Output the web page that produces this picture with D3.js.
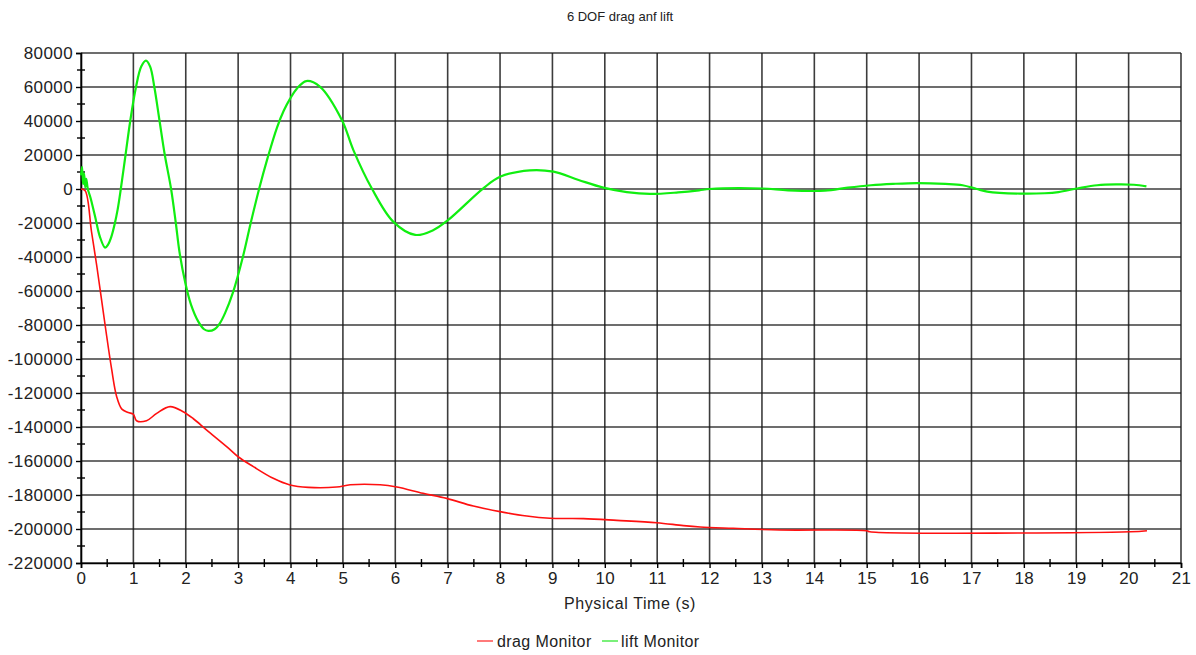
<!DOCTYPE html>
<html>
<head>
<meta charset="utf-8">
<script src="https://cdn.jsdelivr.net/npm/d3@7/dist/d3.min.js"></script>
<style>
  html, body { margin: 0; padding: 0; background: #fff; }
  svg { display: block; font-family: "Liberation Sans", Arial, sans-serif; }
</style>
</head>
<body>
<svg id="chart" width="1196" height="655"></svg>
<script>
const titleText = "6 DOF drag anf lift";
const xLabel = "Physical Time (s)";
const seriesNames = ["drag Monitor", "lift Monitor"];

const xTicks = d3.range(0, 22, 1);
const yTicks = d3.range(-220000, 80001, 20000);

const dragTime = [0, 0.08, 0.2, 0.3, 0.46, 0.585, 0.68, 0.78, 0.9, 1.0, 1.06, 1.25, 1.445, 1.7, 1.95, 2.14, 2.4, 2.78, 3.0, 3.29, 3.67, 3.99, 4.34, 4.88, 5.14, 5.71, 6.03, 6.53, 6.98, 7.49, 8.0, 8.51, 8.95, 9.59, 10.23, 10.99, 11.5, 11.82, 12.45, 13.34, 15.0, 15.06, 20.03, 20.35];
const dragValue = [0, -1000, -25000, -45000, -80000, -106000, -122000, -129500, -131500, -132500, -136300, -136300, -132000, -128000, -131000, -135000, -141800, -151500, -157500, -163300, -170200, -174100, -175500, -175300, -174000, -174000, -175300, -179000, -182000, -186500, -189800, -192400, -193700, -193900, -194900, -196300, -198000, -198800, -199600, -200600, -201000, -201600, -201600, -201000];

const liftTime = [0.0, 0.02, 0.04, 0.06, 0.08, 0.1, 0.13, 0.18, 0.27, 0.36, 0.46, 0.52, 0.58, 0.64, 0.7, 0.76, 0.85, 0.94, 1.05, 1.15, 1.24, 1.32, 1.4, 1.5, 1.6, 1.72, 1.81, 1.88, 1.99, 2.1, 2.24, 2.35, 2.43, 2.55, 2.65, 2.75, 2.9, 3.09, 3.24, 3.4, 3.56, 3.74, 3.87, 3.99, 4.12, 4.3, 4.56, 4.98, 5.2, 5.55, 5.96, 6.38, 6.73, 7.01, 7.68, 8.0, 8.57, 9.02, 9.5, 9.97, 10.42, 10.86, 11.4, 11.8, 12.0, 13.0, 13.5, 14.2, 14.64, 15.08, 15.5, 15.96, 16.5, 16.83, 17.1, 17.3, 17.93, 18.4, 18.66, 19.02, 19.4, 19.76, 20.1, 20.34];
const liftValue = [8000, 13000, 3000, 9000, 1000, 6000, 0, -5000, -16300, -28000, -34500, -32500, -28000, -21000, -12000, 0, 20000, 40000, 60000, 72000, 75500, 72000, 60000, 40000, 20000, 0, -20000, -37000, -55000, -68000, -78000, -82500, -83500, -82500, -79000, -73000, -61000, -40000, -20000, 0, 18000, 36000, 46000, 53000, 59000, 63500, 60200, 40600, 22900, 400, -19200, -27000, -24100, -18200, 400, 7200, 11000, 10200, 5300, 800, -1800, -2900, -2000, -800, 0, 300, -800, -1000, 800, 2200, 3000, 3500, 3000, 2200, 0, -1500, -2700, -2500, -1800, 300, 2200, 2700, 2500, 1500];

const svg = d3.select("#chart");
const mLeft = 81, mRight = 1181, mTop = 53, mBottom = 563;

const x = d3.scaleLinear().domain([0, 21]).range([mLeft, mRight]);
const y = d3.scaleLinear().domain([-220000, 80000]).range([mBottom, mTop]);

// title
svg.append("text").attr("x", 620).attr("y", 21).attr("text-anchor", "middle")
  .attr("font-size", 13).attr("fill", "#222").text(titleText);

// grid
const grid = svg.append("g").attr("stroke", "#1a1a1a").attr("stroke-width", 1.6).attr("stroke-opacity", 0.85);
grid.selectAll("line.v").data(xTicks).join("line").attr("class", "v")
  .attr("x1", d => x(d)).attr("x2", d => x(d)).attr("y1", mTop).attr("y2", mBottom);
grid.selectAll("line.h").data(yTicks).join("line").attr("class", "h")
  .attr("x1", mLeft).attr("x2", mRight).attr("y1", d => y(d)).attr("y2", d => y(d));

// axes
const xAxis = d3.axisBottom(x).tickValues(xTicks).tickFormat(d3.format("d")).tickSize(5).tickPadding(4);
const gx = svg.append("g").attr("transform", `translate(0,${mBottom})`).call(xAxis);
gx.select(".domain").attr("stroke", "#000").attr("stroke-width", 1.6);
gx.selectAll(".tick line").attr("stroke", "#000").attr("stroke-width", 1.4);
gx.selectAll("text").attr("font-size", 17).attr("fill", "#222").attr("letter-spacing", 0.4)
  .attr("font-family", "Liberation Sans, Arial, sans-serif");

const yAxis = d3.axisLeft(y).tickValues(yTicks).tickFormat(d3.format("d")).tickSize(5).tickPadding(3);
const gy = svg.append("g").attr("transform", `translate(${mLeft},0)`).call(yAxis);
gy.select(".domain").attr("stroke", "#000").attr("stroke-width", 1.6);
gy.selectAll(".tick line").attr("stroke", "#000").attr("stroke-width", 1.4);
gy.selectAll("text").attr("font-size", 17).attr("fill", "#222").attr("letter-spacing", 0.4)
  .attr("font-family", "Liberation Sans, Arial, sans-serif")
  .text(d => d < 0 ? "-" + Math.abs(d) : String(d));

// minor ticks
const xMinor = d3.range(0.5, 21, 1);
svg.append("g").selectAll("line").data(xMinor).join("line")
  .attr("x1", d => x(d)).attr("x2", d => x(d)).attr("y1", mBottom - 4).attr("y2", mBottom + 4)
  .attr("stroke", "#000").attr("stroke-width", 1.4);
const yMinor = d3.range(-210000, 80000, 20000);
svg.append("g").selectAll("line").data(yMinor).join("line")
  .attr("x1", mLeft - 4).attr("x2", mLeft + 4).attr("y1", d => y(d)).attr("y2", d => y(d))
  .attr("stroke", "#000").attr("stroke-width", 1.4);

// lines
const line = d3.line().x(d => x(d[0])).y(d => y(d[1])).curve(d3.curveCatmullRom.alpha(0.5));
const dragData = dragTime.map((t, i) => [t, dragValue[i]]);
const liftData = liftTime.map((t, i) => [t, liftValue[i]]);

svg.append("path").datum(dragData).attr("d", line).attr("fill", "none")
  .attr("stroke", "#ff1010").attr("stroke-width", 1.6);
svg.append("path").datum(liftData).attr("d", line).attr("fill", "none")
  .attr("stroke", "#10ee10").attr("stroke-width", 2.2);

// x label
svg.append("text").attr("x", 630).attr("y", 609).attr("text-anchor", "middle")
  .attr("font-size", 16).attr("letter-spacing", 0.6).attr("fill", "#222").text(xLabel);

// legend
const legendItems = [
  { name: seriesNames[0], color: "#ff7a7a", x0: 477, tx: 497 },
  { name: seriesNames[1], color: "#7af07a", x0: 602, tx: 621 }
];
const lg = svg.append("g");
legendItems.forEach(it => {
  lg.append("line").attr("x1", it.x0).attr("x2", it.x0 + 16).attr("y1", 641).attr("y2", 641)
    .attr("stroke", it.color).attr("stroke-width", 2);
  lg.append("text").attr("x", it.tx).attr("y", 646.5).attr("font-size", 16).attr("letter-spacing", 0.4)
    .attr("fill", "#222").text(it.name);
});
</script>
</body>
</html>
